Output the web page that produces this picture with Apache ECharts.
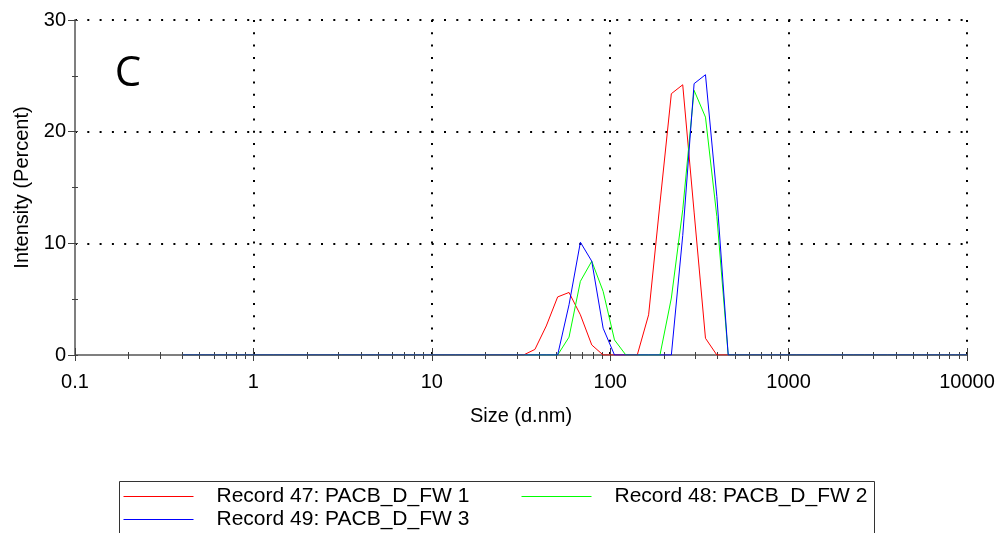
<!DOCTYPE html>
<html>
<head>
<meta charset="utf-8">
<title>Size distribution by intensity</title>
<script src="https://cdn.jsdelivr.net/npm/echarts@6/dist/echarts.min.js"></script>
<style>
  html, body { margin: 0; padding: 0; background: #fff; }
  #chart { width: 1002px; height: 533px; }
</style>
</head>
<body>
<div id="chart"></div>
<script>
// Size classes (d.nm), 70 logarithmic bins
const sizes = [
  0.4, 0.4632, 0.5365, 0.6213, 0.7195, 0.8332, 0.9649, 1.117, 1.294, 1.499,
  1.736, 2.010, 2.328, 2.696, 3.122, 3.615, 4.187, 4.849, 5.615, 6.503,
  7.531, 8.721, 10.10, 11.70, 13.54, 15.69, 18.17, 21.04, 24.36, 28.21,
  32.67, 37.84, 43.82, 50.75, 58.77, 68.06, 78.82, 91.28, 105.7, 122.4,
  141.8, 164.2, 190.1, 220.2, 255.0, 295.3, 342.0, 396.1, 458.7, 531.2,
  615.1, 712.4, 825.0, 955.4, 1106, 1281, 1484, 1718, 1990, 2305,
  2669, 3091, 3580, 4145, 4801, 5560, 6439, 7456, 8635, 10000
];

// Intensity (%) per size class
const record47 = [
  0, 0, 0, 0, 0, 0, 0, 0, 0, 0,
  0, 0, 0, 0, 0, 0, 0, 0, 0, 0,
  0, 0, 0, 0, 0, 0, 0, 0, 0, 0,
  0, 0.5, 2.6, 5.2, 5.6, 3.6, 0.9, 0, 0, 0,
  0, 3.6, 13.6, 23.4, 24.2, 12.8, 1.5, 0, 0, 0,
  0, 0, 0, 0, 0, 0, 0, 0, 0, 0,
  0, 0, 0, 0, 0, 0, 0, 0, 0, 0
];
const record48 = [
  0, 0, 0, 0, 0, 0, 0, 0, 0, 0,
  0, 0, 0, 0, 0, 0, 0, 0, 0, 0,
  0, 0, 0, 0, 0, 0, 0, 0, 0, 0,
  0, 0, 0, 0, 1.6, 6.6, 8.4, 5.7, 1.35, 0,
  0, 0, 0, 5.1, 13.0, 23.7, 21.3, 12.4, 0, 0,
  0, 0, 0, 0, 0, 0, 0, 0, 0, 0,
  0, 0, 0, 0, 0, 0, 0, 0, 0, 0
];
const record49 = [
  0, 0, 0, 0, 0, 0, 0, 0, 0, 0,
  0, 0, 0, 0, 0, 0, 0, 0, 0, 0,
  0, 0, 0, 0, 0, 0, 0, 0, 0, 0,
  0, 0, 0, 0, 4.5, 10.1, 8.4, 2.4, 0, 0,
  0, 0, 0, 0, 10.7, 24.3, 25.1, 14.2, 0, 0,
  0, 0, 0, 0, 0, 0, 0, 0, 0, 0,
  0, 0, 0, 0, 0, 0, 0, 0, 0, 0
];

const seriesNames = ['Record 47: PACB_D_FW 1', 'Record 48: PACB_D_FW 2', 'Record 49: PACB_D_FW 3'];
const seriesColors = ['#ff0000', '#00ff00', '#0000ff'];

// Axis ticks
const xMin = 0.1, xMax = 10000;
const decades = [0.1, 1, 10, 100, 1000];
const minorSteps = [2, 3, 4, 5, 6, 7, 8, 9];
const yMin = 0, yMax = 30, yStep = 10, yMinorStep = 5;

// minor/major tick positions expressed on a log10 value axis
const logMinor = [];
decades.forEach(d => minorSteps.forEach(m => logMinor.push(Math.log10(d * m))));
const logMajor = decades.map(d => Math.log10(d)).concat([Math.log10(xMax)]);

const FONT = 'Liberation Sans';
const axisGray = '#7f7f7f';
const tickColor = '#404040';
const dotted = { type: [2, 10.3], width: 2, color: '#000' };

function tickAxis(values, inside, length) {
  return {
    type: 'value', position: 'bottom', min: Math.log10(xMin), max: Math.log10(xMax),
    axisLine: { show: false, onZero: false }, axisLabel: { show: false }, splitLine: { show: false },
    axisTick: { show: true, inside: inside, length: length, customValues: values,
      lineStyle: { color: tickColor, width: 1 } }
  };
}

function minorYAxis(inside) {
  return {
    type: 'value', min: yMin, max: yMax, interval: yMinorStep, position: 'left',
    axisLine: { show: false, onZero: false }, axisLabel: { show: false }, splitLine: { show: false },
    axisTick: { show: true, inside: inside, length: 3, lineStyle: { color: tickColor, width: 1 } }
  };
}

const legendCommon = {
  orient: 'vertical', top: 486, padding: 0, itemGap: 2, itemWidth: 70, itemHeight: 14,
  selectedMode: false,
  itemStyle: { opacity: 0 },
  lineStyle: { width: 1 },
  textStyle: { fontFamily: FONT, fontSize: 21, color: '#000', lineHeight: 21, padding: [0, 0, 0, 18] }
};

const chart = echarts.init(document.getElementById('chart'), null, { renderer: 'canvas' });

chart.setOption({
  animation: false,
  backgroundColor: '#fff',
  grid: { left: 75, right: 35, top: 20, bottom: 178, containLabel: false },
  xAxis: [
    {
      type: 'log', logBase: 10, min: xMin, max: xMax, position: 'bottom',
      name: 'Size (d.nm)', nameLocation: 'middle', nameGap: 51,
      nameTextStyle: { fontFamily: FONT, fontSize: 20, color: '#000' },
      axisLine: { show: true, onZero: false, lineStyle: { color: axisGray, width: 2 } },
      axisTick: { show: true, length: 6, lineStyle: { color: tickColor, width: 1 } },
      axisLabel: { fontFamily: FONT, fontSize: 20, color: '#000', margin: 17,
        formatter: v => String(+v.toPrecision(6)) },
      splitLine: { show: true, showMinLine: false, lineStyle: dotted }
    },
    tickAxis(logMinor, false, 4),
    tickAxis(logMinor, true, 3),
    tickAxis(logMajor, true, 7)
  ],
  yAxis: [
    {
      type: 'value', min: yMin, max: yMax, interval: yStep, position: 'left',
      name: 'Intensity (Percent)', nameLocation: 'middle', nameGap: 42,
      nameTextStyle: { fontFamily: FONT, fontSize: 20, color: '#000' },
      axisLine: { show: true, onZero: false, lineStyle: { color: axisGray, width: 2 } },
      axisTick: { show: true, length: 7, lineStyle: { color: tickColor, width: 1 } },
      axisLabel: { fontFamily: FONT, fontSize: 20, color: '#000', margin: 9 },
      splitLine: { show: true, showMinLine: false, lineStyle: dotted }
    },
    minorYAxis(true),
    minorYAxis(false)
  ],
  legend: [
    Object.assign({}, legendCommon, { data: [seriesNames[0], seriesNames[2]], left: 123 }),
    Object.assign({}, legendCommon, { data: [seriesNames[1]], left: 521 })
  ],
  graphic: [
    {
      type: 'rect', silent: true,
      shape: { x: 119.5, y: 481.5, width: 755, height: 70 },
      style: { fill: 'none', stroke: '#333', lineWidth: 1 }
    },
    {
      type: 'text', x: 128, y: 74, silent: true,
      style: { text: 'C', fontFamily: 'Open Sans', fontSize: 42, fill: '#000',
        textAlign: 'center', textVerticalAlign: 'middle' }
    }
  ],
  series: [record47, record48, record49].map((vals, k) => ({
    type: 'line', name: seriesNames[k], xAxisIndex: 0, yAxisIndex: 0,
    data: sizes.map((s, i) => [s, vals[i]]),
    symbol: 'none', showSymbol: false, smooth: false,
    lineStyle: { color: seriesColors[k], width: 1 },
    itemStyle: { color: seriesColors[k] },
    emphasis: { disabled: true }
  }))
});
</script>
</body>
</html>
